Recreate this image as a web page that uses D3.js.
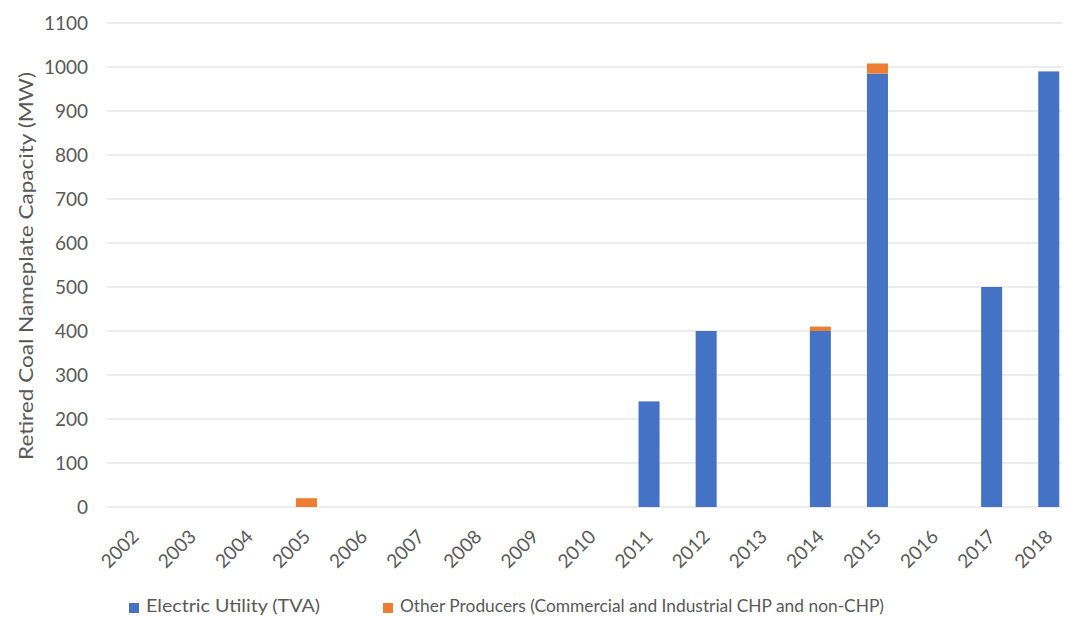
<!DOCTYPE html>
<html><head><meta charset="utf-8">
<script src="https://cdn.jsdelivr.net/npm/d3@7"></script>
<style>body{margin:0;background:#fff;} text{font-family:"Lato",sans-serif;fill:#595959;}</style>
</head><body>
<svg id="c" width="1065" height="617"></svg>
<script>
const years = ["2002","2003","2004","2005","2006","2007","2008","2009","2010","2011","2012","2013","2014","2015","2016","2017","2018"];
const electricUtility = [0,0,0,0,0,0,0,0,0,240,400,0,400,985,0,500,990];
const otherProducers = [0,0,0,20,0,0,0,0,0,0,0,0,10,23,0,0,0];
const yTicks = [0,100,200,300,400,500,600,700,800,900,1000,1100];
const seriesNames = ["Electric Utility (TVA)","Other Producers (Commercial and Industrial CHP and non-CHP)"];
const colors = ["#4472C4","#ED7D31"];

const svg = d3.select("#c");
const plotLeft = 106.6, plotRightVisible = 1062;
const x = d3.scaleBand().domain(years).range([plotLeft, plotLeft + 17*57.1]).paddingInner(0.632).paddingOuter(0.316);
const y = d3.scaleLinear().domain([0,1100]).range([507,23]);

// gridlines
svg.append("g").selectAll("line").data(yTicks).join("line")
  .attr("x1", plotLeft).attr("x2", plotRightVisible)
  .attr("y1", d=>y(d)).attr("y2", d=>y(d))
  .attr("stroke", "#d9d9d9").attr("stroke-width", 1);

// y labels
svg.append("g").selectAll("text").data(yTicks).join("text")
  .attr("x", 88).attr("y", d=>y(d)).attr("dy","0.36em")
  .attr("text-anchor","end").attr("font-size",19).text(d=>d);

// stacked bars
const data = years.map((yr,i)=>({year:yr, eu:electricUtility[i], op:otherProducers[i]}));
const stack = d3.stack().keys(["eu","op"])(data);
svg.append("g").selectAll("g").data(stack).join("g")
  .attr("fill",(d,i)=>colors[i])
  .selectAll("rect").data(d=>d.filter(s=>s[1]-s[0]>0)).join("rect")
  .attr("x", d=>x(d.data.year)).attr("width", x.bandwidth())
  .attr("y", d=>y(d[1])).attr("height", d=>y(d[0])-y(d[1]));

// x labels
svg.append("g").selectAll("text").data(years).join("text")
  .attr("transform", d=>`translate(${x(d)+x.bandwidth()/2+5},${538}) rotate(-45)`)
  .attr("text-anchor","end").attr("font-size",19).text(d=>d);

// y title
svg.append("text").attr("transform","translate(33,266) rotate(-90)")
  .attr("text-anchor","middle").attr("font-size",20)
  .attr("textLength",388).attr("lengthAdjust","spacingAndGlyphs")
  .text("Retired Coal Nameplate Capacity (MW)");

// legend
const legendX = [129, 383];
const legendLen = [174, 484];
const lg = svg.append("g");
seriesNames.forEach((n,i)=>{
  lg.append("rect").attr("x",legendX[i]).attr("y",603).attr("width",10).attr("height",10).attr("fill",colors[i]);
  lg.append("text").attr("x",legendX[i]+17).attr("y",612).attr("font-size",18)
    .attr("textLength",legendLen[i]).attr("lengthAdjust","spacingAndGlyphs").text(n);
});
</script>
</body></html>
